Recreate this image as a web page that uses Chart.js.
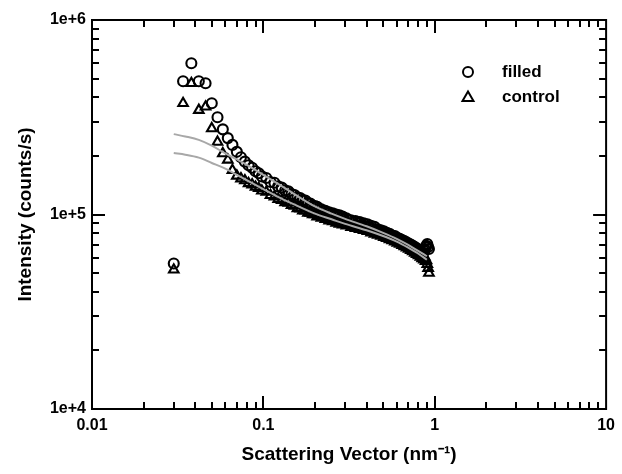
<!DOCTYPE html>
<html>
<head>
<meta charset="utf-8">
<script src="https://cdn.jsdelivr.net/npm/chart.js@4.4.1/dist/chart.umd.min.js"></script>
<style>
  html, body { margin: 0; padding: 0; background: #fff; }
  #wrap { width: 622px; height: 474px; }
</style>
</head>
<body>
<div id="wrap"><canvas id="myChart" width="622" height="474"></canvas></div>
<script>
// scattering vector (nm^-1) of each measured point
const q = [
  0.030, 0.034, 0.038, 0.042, 0.046, 0.050, 0.054, 0.058, 0.062, 0.066, 0.070, 0.074, 0.078, 0.082, 0.086, 0.090, 0.094, 0.098,
  0.104, 0.110, 0.116, 0.122, 0.128, 0.134, 0.140, 0.146, 0.152, 0.158, 0.164, 0.170, 0.176, 0.182, 0.188, 0.194, 0.200,
  0.206, 0.212, 0.218, 0.224, 0.230, 0.236, 0.242, 0.248, 0.254, 0.260, 0.266, 0.272, 0.278, 0.284, 0.290, 0.296,
  0.305, 0.315, 0.325, 0.335, 0.345, 0.355, 0.365, 0.375, 0.385, 0.395, 0.405, 0.415, 0.425, 0.435, 0.445, 0.455,
  0.465, 0.475, 0.485, 0.495, 0.505, 0.515, 0.525, 0.535, 0.545, 0.555, 0.565, 0.575, 0.585, 0.595, 0.605, 0.615,
  0.625, 0.635, 0.645, 0.655, 0.665, 0.675, 0.685, 0.695, 0.705, 0.715, 0.725, 0.735, 0.745, 0.755, 0.765, 0.775,
  0.785, 0.795, 0.805, 0.815, 0.825, 0.835, 0.845, 0.855, 0.865, 0.875, 0.885, 0.895, 0.905, 0.915, 0.925
]
// intensity (counts/s), filled sample
const filled = [
  56000, 484000, 599000, 484000, 473000, 373000, 316000, 274000, 247000, 228000, 210000, 197000, 187000, 179000, 174000, 167000, 163000, 157000,
  154000, 147000, 145500, 139500, 137500, 133000, 131500, 127500, 126000, 122500, 121500, 118500, 118000, 114500, 114000, 111000, 110500,
  109500, 107000, 106500, 104500, 104500, 102000, 102500, 100000, 101500, 98500, 100000, 97000, 99000, 96000, 97500, 94500,
  95500, 93500, 93500, 91000, 92500, 90000, 91500, 88500, 90000, 87000, 89000, 86000, 87500, 84500, 86500, 83500,
  84000, 82000, 83000, 80500, 82000, 79500, 80500, 78000, 79500, 77000, 78000, 75500, 77500, 75000, 76000, 74000,
  75000, 72500, 74000, 71500, 73000, 70500, 72000, 69500, 71000, 68500, 70000, 67500, 69000, 66500, 68000, 65500,
  67000, 64500, 66000, 63500, 65000, 62500, 64000, 63000, 65000, 66000, 68000, 69000, 70500, 68000, 66500
]
// intensity (counts/s), control sample
const control = [
  52000, 373000, 473000, 344000, 358000, 277000, 236000, 206000, 191000, 169000, 158000, 153000, 149500, 144500, 142500, 138500, 136500, 132500,
  130500, 125500, 123500, 120000, 118500, 115500, 114500, 111500, 110500, 107500, 107000, 104500, 104500, 102000, 102000, 100000, 100000,
  97500, 99000, 96000, 97500, 94500, 96000, 93000, 95000, 92000, 93500, 90500, 92500, 89500, 91500, 88500, 90500,
  87500, 89500, 86000, 88000, 85000, 87000, 84000, 86000, 83000, 85000, 82000, 83500, 80500, 82500, 79500, 81500,
  78500, 80500, 77500, 79500, 76500, 78500, 75500, 77500, 74500, 76500, 73500, 75500, 72500, 74500, 71500, 73500,
  70500, 72500, 69500, 71500, 68500, 70500, 67500, 69500, 66500, 68500, 65500, 67500, 64500, 66500, 63500, 65500,
  62500, 64500, 61500, 63500, 60500, 62500, 59500, 61500, 58500, 60500, 57500, 58000, 55500, 53000, 50000
]
// fitted curves (grey lines)
const fitQ = [0.030, 0.035, 0.042, 0.050, 0.060, 0.070, 0.080, 0.090, 0.100, 0.120, 0.150, 0.200, 0.250, 0.300, 0.400, 0.500, 0.600, 0.700, 0.800, 0.900]
const fitFilled = [259000, 252000, 242000, 226000, 206000, 192000, 180000, 169000, 160000, 145000, 128000, 110000, 101000, 95000, 87000, 80500, 75000, 69800, 65000, 61000]
const fitControl = [207000, 203000, 196000, 184000, 172000, 160000, 150000, 142000, 135000, 124000, 113000, 101000, 94500, 89500, 83000, 77500, 72500, 67500, 63000, 58500]

const xTicks = [0.01, 0.1, 1, 10]
const xTickLabels = ['0.01', '0.1', '1', '10']
const yTicks = [1e4, 1e5, 1e6]
const yTickLabels = ['1e+4', '1e+5', '1e+6']
const seriesNames = ['filled', 'control']

const FONT = "'Liberation Sans', Arial, sans-serif"

const pts = (xs, ys) => xs.map((x, i) => ({ x: x, y: ys[i] }))

// box, inward ticks on all four sides, and the legend
const framePlugin = {
  id: 'frame',
  afterDraw(chart) {
    const { ctx, chartArea: a, scales } = chart
    const xs = scales.x
    const ys = scales.y
    ctx.save()
    ctx.strokeStyle = '#000'
    ctx.lineWidth = 2
    ctx.strokeRect(a.left, a.top, a.right - a.left, a.bottom - a.top)
    ctx.beginPath()
    for (let d = xs.min; d < xs.max * 0.99; d *= 10) {
      for (let m = 1; m <= 9; m++) {
        const px = Math.round(xs.getPixelForValue(d * m))
        const len = m === 1 ? 13 : 7
        ctx.moveTo(px, a.bottom); ctx.lineTo(px, a.bottom - len)
        ctx.moveTo(px, a.top); ctx.lineTo(px, a.top + len)
      }
    }
    for (let d = ys.min; d < ys.max * 0.99; d *= 10) {
      for (let m = 1; m <= 9; m++) {
        const py = Math.round(ys.getPixelForValue(d * m))
        const len = m === 1 ? 13 : 7
        ctx.moveTo(a.left, py); ctx.lineTo(a.left + len, py)
        ctx.moveTo(a.right, py); ctx.lineTo(a.right - len, py)
      }
    }
    ctx.stroke()

    // legend
    const lx = a.left + 376
    const ly = a.top + 52
    ctx.lineWidth = 2
    ctx.beginPath()
    ctx.arc(lx, ly, 5, 0, Math.PI * 2)
    ctx.stroke()
    const ty = ly + 25
    ctx.beginPath()
    ctx.moveTo(lx, ty - 5.5)
    ctx.lineTo(lx + 5.5, ty + 4)
    ctx.lineTo(lx - 5.5, ty + 4)
    ctx.closePath()
    ctx.stroke()
    ctx.fillStyle = '#000'
    ctx.font = 'bold 17px ' + FONT
    ctx.textBaseline = 'middle'
    ctx.textAlign = 'left'
    ctx.fillText(seriesNames[0], lx + 34, ly)
    ctx.fillText(seriesNames[1], lx + 34, ty)
    ctx.restore()
  }
}

const ctx = document.getElementById('myChart').getContext('2d')
const myChart = new Chart(ctx, {
  type: 'scatter',
  data: {
    datasets: [
      {
        label: 'fit filled',
        type: 'line',
        data: pts(fitQ, fitFilled),
        borderColor: '#a8a8a8',
        borderWidth: 2,
        pointRadius: 0,
        cubicInterpolationMode: 'monotone',
        fill: false,
        order: 0
      },
      {
        label: 'fit control',
        type: 'line',
        data: pts(fitQ, fitControl),
        borderColor: '#a8a8a8',
        borderWidth: 2,
        pointRadius: 0,
        cubicInterpolationMode: 'monotone',
        fill: false,
        order: 0
      },
      {
        label: seriesNames[0],
        data: pts(q, filled),
        pointStyle: 'circle',
        pointRadius: 5,
        borderColor: '#000',
        borderWidth: 2.1,
        backgroundColor: 'rgba(0,0,0,0)',
        order: 1
      },
      {
        label: seriesNames[1],
        data: pts(q, control),
        pointStyle: 'triangle',
        pointRadius: 5.5,
        borderColor: '#000',
        borderWidth: 2.1,
        backgroundColor: 'rgba(0,0,0,0)',
        order: 2
      }
    ]
  },
  options: {
    responsive: false,
    animation: false,
    events: [],
    layout: { padding: { top: 20, right: 12, left: 0, bottom: 0 } },
    plugins: {
      legend: { display: false },
      tooltip: { enabled: false }
    },
    scales: {
      x: {
        type: 'logarithmic',
        min: 0.01,
        max: 10,
        grid: { display: false, drawTicks: false },
        border: { display: false },
        afterBuildTicks: s => { s.ticks = xTicks.map(v => ({ value: v })) },
        afterFit: s => { s.height = 65 },
        ticks: {
          autoSkip: false,
          maxRotation: 0,
          padding: 7,
          color: '#000',
          font: { family: FONT, size: 16, weight: 'bold' },
          callback: (v, i) => xTickLabels[i]
        },
        title: {
          display: true,
          text: 'Scattering Vector (nm\u207B\u00B9)',
          color: '#000',
          font: { family: FONT, size: 19, weight: 'bold' },
          padding: { top: 0, bottom: 8 }
        }
      },
      y: {
        type: 'logarithmic',
        min: 1e4,
        max: 1e6,
        grid: { display: false, drawTicks: false },
        border: { display: false },
        afterBuildTicks: s => { s.ticks = yTicks.map(v => ({ value: v })) },
        afterFit: s => { s.width = 92 },
        ticks: {
          autoSkip: false,
          padding: 6,
          color: '#000',
          font: { family: FONT, size: 16, weight: 'bold' },
          callback: (v, i) => yTickLabels[i]
        },
        title: {
          display: true,
          text: 'Intensity (counts/s)',
          color: '#000',
          font: { family: FONT, size: 19, weight: 'bold' },
          padding: { top: 14, bottom: 0 }
        }
      }
    }
  },
  plugins: [framePlugin]
})
</script>
</body>
</html>
